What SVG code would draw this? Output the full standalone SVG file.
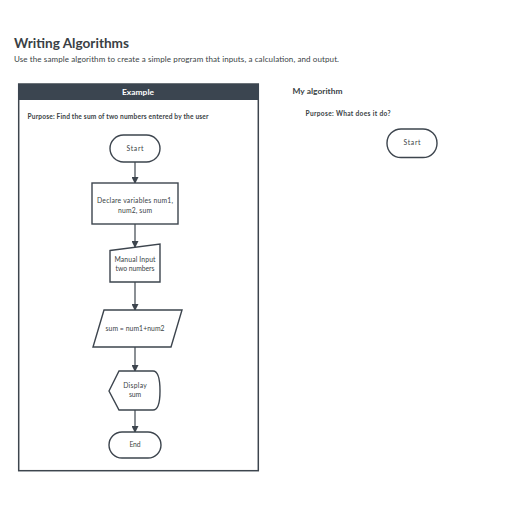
<svg xmlns="http://www.w3.org/2000/svg" width="516" height="516" viewBox="0 0 516 516">
<style>
text{font-family:Lato,"Liberation Sans",sans-serif;fill:#3a3f45}
.shape{fill:#fff;stroke:#3d454e;stroke-width:1.4}
.lbl{font-size:6.8px;text-anchor:middle}
.conn line{stroke:#3d454e;stroke-width:1.2}
</style>
<defs>
<marker id="ah" markerWidth="7" markerHeight="7" refX="6" refY="3.5" orient="auto" markerUnits="userSpaceOnUse">
<path d="M0,0 L7,3.5 L0,7 Z" fill="#3d454e"/>
</marker>
</defs>
<rect width="516" height="516" fill="#fff"/>
<text x="14" y="48" font-size="13.4" font-weight="bold" fill="#2f3740" textLength="115" lengthAdjust="spacingAndGlyphs">Writing Algorithms</text>
<text x="14" y="62" font-size="8" fill="#666" textLength="325" lengthAdjust="spacing">Use the sample algorithm to create a simple program that inputs, a calculation, and output.</text>

<g id="example-panel">
<rect x="18.7" y="84" width="239.6" height="386.7" fill="#fff" stroke="#3d454e" stroke-width="1.5"/>
<rect x="18" y="84" width="241" height="16" fill="#3b4550"/>
<text x="138" y="95" font-size="8.4" font-weight="bold" text-anchor="middle" style="fill:#fff" textLength="32" lengthAdjust="spacing">Example</text>
<text x="27.5" y="119" font-size="6.6" font-weight="bold" textLength="181" lengthAdjust="spacing">Purpose: Find the sum of two numbers entered by the user</text>
</g>

<g id="my-algorithm">
<text x="292.5" y="94" font-size="8.4" font-weight="bold" textLength="50" lengthAdjust="spacing">My algorithm</text>
<text x="305.5" y="116" font-size="6.6" font-weight="bold" textLength="85" lengthAdjust="spacing">Purpose: What does it do?</text>
</g>

<g class="conn" id="connectors">
<line x1="135" y1="162" x2="135" y2="183" marker-end="url(#ah)"/>
<line x1="135" y1="224" x2="135" y2="247" marker-end="url(#ah)"/>
<line x1="135" y1="282" x2="135" y2="310" marker-end="url(#ah)"/>
<line x1="135" y1="347" x2="135" y2="371" marker-end="url(#ah)"/>
<line x1="135" y1="410" x2="135" y2="432" marker-end="url(#ah)"/>
</g>

<g id="start">
<rect class="shape" x="110" y="135" width="50" height="27" rx="13.5"/>
<text class="lbl" x="135" y="150.5" textLength="17" lengthAdjust="spacing">Start</text>
</g>
<g id="declare">
<rect class="shape" x="92" y="183" width="86" height="41"/>
<text class="lbl" x="135" y="203" textLength="76" lengthAdjust="spacing">Declare variables num1,</text>
<text class="lbl" x="135" y="213" textLength="34" lengthAdjust="spacing">num2, sum</text>
</g>
<g id="manual-input">
<path class="shape" d="M110,250.5 L160,244 L160,282 L110,282 Z"/>
<text class="lbl" x="135" y="262" textLength="41" lengthAdjust="spacing">Manual Input</text>
<text class="lbl" x="135" y="271" textLength="39" lengthAdjust="spacing">two numbers</text>
</g>
<g id="calculate">
<path class="shape" d="M104,310 L182,310 L171,347 L93,347 Z"/>
<text class="lbl" x="135" y="331" textLength="59" lengthAdjust="spacing">sum = num1+num2</text>
</g>
<g id="display">
<path class="shape" d="M109,391 L119,371 L153,371 Q160,371 160,391 Q160,410 153,410 L119,410 Z"/>
<text class="lbl" x="135" y="388" textLength="23.5" lengthAdjust="spacing">Display</text>
<text class="lbl" x="135" y="397" textLength="12" lengthAdjust="spacing">sum</text>
</g>
<g id="end">
<rect class="shape" x="109" y="432" width="52" height="26" rx="13"/>
<text class="lbl" x="135" y="447" textLength="11" lengthAdjust="spacing">End</text>
</g>
<g id="start-2">
<rect class="shape" x="387" y="129" width="50" height="28.5" rx="14"/>
<text class="lbl" x="412" y="145" textLength="17" lengthAdjust="spacing">Start</text>
</g>
</svg>
